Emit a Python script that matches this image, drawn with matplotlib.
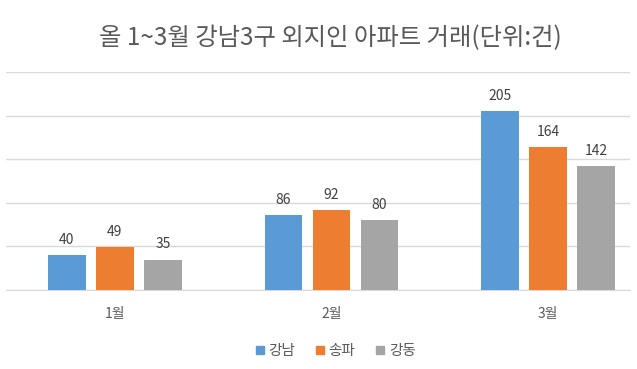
import matplotlib as mpl
mpl.use('Agg')
import matplotlib.pyplot as plt
from matplotlib.lines import Line2D
import numpy as np

plt.rcParams['font.family'] = ['Noto Sans CJK KR', 'DejaVu Sans']

months = ['1월', '2월', '3월']
series = ['강남', '송파', '강동']
gangnam = [40, 86, 205]
songpa = [49, 92, 164]
gangdong = [35, 80, 142]
colors = ['#5B9BD5', '#ED7D31', '#A5A5A5']

fig = plt.figure(figsize=(6.37, 3.69), dpi=100)
ax = fig.add_axes([6/637, 1-290/369, 624/637, (290-72.3)/369])

x = np.arange(len(months))
w = 0.173
step = 0.222
for i, (vals, c) in enumerate(zip([gangnam, songpa, gangdong], colors)):
    bars = ax.bar(x + (i-1)*step, vals, w, color=c, zorder=3)
    for b, v in zip(bars, vals):
        ax.annotate(str(v), (b.get_x()+b.get_width()/2, v), xytext=(0, 6),
                    textcoords='offset points', ha='center', va='bottom',
                    fontsize=10, color='#404040')

ax.set_xlim(-0.503, 2.379)
ax.set_ylim(0, 250)
ax.set_yticks(range(0, 251, 50))
ax.yaxis.grid(True, color='#D9D9D9', linewidth=1)
ax.tick_params(axis='y', left=False, labelleft=False)
ax.tick_params(axis='x', bottom=False, labelsize=10, labelcolor='#595959', pad=9)
ax.set_xticks(x)
ax.set_xticklabels(months)
for s in ['top', 'right', 'left']:
    ax.spines[s].set_visible(False)
ax.spines['bottom'].set_color('#D9D9D9')
ax.set_axisbelow(True)

fig.text(330/637, 1-38/369, '올 1~3월 강남3구 외지인 아파트 거래(단위:건)', ha='center', va='center',
         fontsize=17.5, color='#595959')

handles = [Line2D([], [], marker='s', linestyle='', color=c, markersize=6) for c in colors]
fig.legend(handles, series, loc='center', bbox_to_anchor=(334/637, 1-351/369), ncol=3,
           frameon=False, fontsize=10.5, handletextpad=0.1, columnspacing=1.2,
           labelcolor='#595959', handlelength=1)

fig.savefig('out.png')
